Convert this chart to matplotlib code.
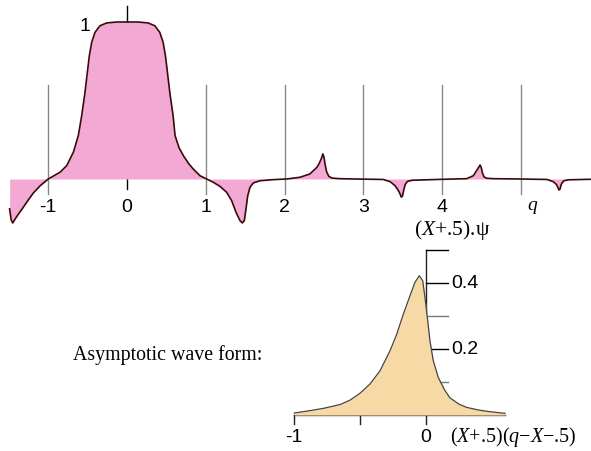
import numpy as np
import matplotlib.pyplot as plt

plt.rcParams['font.family'] = ['Liberation Sans', 'DejaVu Sans']
plt.rcParams['mathtext.fontset'] = 'custom'
plt.rcParams['mathtext.rm'] = 'Liberation Serif'
plt.rcParams['mathtext.it'] = 'Liberation Serif:italic'

# top curve: (X+.5).psi
waveX = [-1.49, -1.47, -1.45, -1.42, -1.38, -1.33, -1.27, -1.19, -1.10, -1.00,
         -0.93, -0.85, -0.765, -0.681, -0.618, -0.575, -0.533, -0.503, -0.478, -0.448,
         -0.406, -0.343, -0.258, -0.131, 0.00, 0.141, 0.268, 0.353, 0.416, 0.458,
         0.488, 0.513, 0.543, 0.585, 0.61, 0.66, 0.715, 0.78, 0.84, 0.926,
         1.011, 1.095, 1.18, 1.265, 1.328, 1.383, 1.434, 1.464, 1.489, 1.51,
         1.532, 1.561, 1.603, 1.688, 1.857, 2.026, 2.195, 2.32, 2.41, 2.44,
         2.47, 2.485, 2.50, 2.515, 2.534, 2.56, 2.60, 2.70, 2.90, 3.25,
         3.34, 3.40, 3.44, 3.465, 3.48, 3.495, 3.51, 3.53, 3.56, 3.62,
         3.80, 4.00, 4.31, 4.395, 4.445, 4.47, 4.48, 4.495, 4.51, 4.53,
         4.56, 4.65, 5.00, 5.33, 5.41, 5.45, 5.47, 5.48, 5.495, 5.51,
         5.54, 5.60, 5.88]
waveY = [-0.19, -0.26, -0.28, -0.255, -0.225, -0.19, -0.146, -0.09, -0.042, 0.0,
         0.02, 0.043, 0.085, 0.17, 0.276, 0.403, 0.552, 0.68, 0.785, 0.871,
         0.934, 0.976, 0.994, 1.0, 1.0, 1.0, 0.994, 0.976, 0.934, 0.871,
         0.785, 0.68, 0.552, 0.403, 0.276, 0.20, 0.149, 0.10, 0.064, 0.021,
         0.0, -0.021, -0.047, -0.085, -0.138, -0.212, -0.265, -0.28, -0.265, -0.19,
         -0.106, -0.053, -0.025, -0.011, -0.004, 0.0, 0.011, 0.032, 0.074, 0.10,
         0.135, 0.16, 0.14, 0.09, 0.045, 0.018, 0.006, 0.002, 0.0, -0.003,
         -0.017, -0.042, -0.07, -0.095, -0.115, -0.11, -0.075, -0.035, -0.015, -0.008,
         -0.005, -0.002, 0.002, 0.021, 0.06, 0.08, 0.089, 0.075, 0.04, 0.014,
         0.005, 0.002, 0.0, -0.003, -0.017, -0.035, -0.055, -0.07, -0.065, -0.035,
         -0.012, -0.005, -0.002]
topTicks = [-1, 0, 1, 2, 3, 4, 5]
topTickLabels = ['-1', '0', '1', '2', '3', '4', '$q$']
topTickLabelX = [-1, 0, 1, 2, 3, 4, 5.15]

# bottom curve: asymptotic wave form
asymX = [-1.0, -0.9, -0.78, -0.65, -0.577, -0.501, -0.425, -0.349, -0.273, -0.222,
         -0.172, -0.121, -0.084, -0.051, -0.025, -0.008, 0.01, 0.03, 0.055, 0.093,
         0.144, 0.182, 0.25, 0.309, 0.40, 0.486, 0.60]
asymY = [0.006, 0.012, 0.02, 0.032, 0.045, 0.066, 0.094, 0.134, 0.195, 0.245,
         0.306, 0.362, 0.402, 0.422, 0.407, 0.357, 0.296, 0.225, 0.165, 0.114,
         0.074, 0.052, 0.033, 0.023, 0.015, 0.01, 0.005]
asymXTicks = [-1, -0.5, 0]
asymXTickLabels = ['-1', '', '0']
asymYTicks = [0.1, 0.2, 0.3, 0.4, 0.5]
asymYTickLabels = ['', '0.2', '', '0.4', '']

fig = plt.figure(figsize=(5.91, 4.52), dpi=100)

# ---- top panel ----
ax1 = fig.add_axes([0, 1 - 240 / 452, 1, 240 / 452])
ax1.set_xlim(-127 / 78.8, (591 - 127) / 78.8)
ax1.set_ylim(-60 / 157, 180 / 157)
ax1.axis('off')

for t in topTicks:
    if t == 0:
        ax1.plot([t, t], [-0.064, 1.10], color='black', lw=1.0, zorder=1)
    else:
        ax1.plot([t, t], [-0.096, 0.599], color='#888888', lw=1.0, zorder=1)

ax1.fill_between(waveX, waveY, 0, color='#F2AAD5', lw=0, zorder=2)
ax1.plot(waveX, waveY, color='#3B0A0A', lw=1.2, zorder=3,
         solid_joinstyle='round')

for t, lab in zip(topTickLabelX, topTickLabels):
    ax1.text(t, -0.172, lab, ha='center', va='center', fontsize=14)
ax1.text(-0.533, 0.975, '1', ha='center', va='center', fontsize=14)
ax1.text(4.124, -0.318, r'($X$+.5).ψ', ha='center', va='center',
         fontsize=15.5, family='Liberation Serif')

# ---- bottom panel ----
ax2 = fig.add_axes([0, 0, 1, 212 / 452])
ax2.set_xlim(-426 / 131.7, (591 - 426) / 131.7)
ax2.set_ylim(-36 / 330, 176 / 330)
ax2.axis('off')

ax2.plot([0, 0], [0, 0.5], color='#222222', lw=1.0, zorder=1)
for t, lab in zip(asymYTicks, asymYTickLabels):
    col = 'black' if lab != '' or t == 0.5 else '#777777'
    ax2.plot([0, 0.165], [t, t], color=col, lw=1.0, zorder=1)
    if lab:
        ax2.text(0.19, t, lab, ha='left', va='center', fontsize=14)

ax2.plot([-1, 0.6], [0, 0], color='#444444', lw=1.0, zorder=1)
for t, lab in zip(asymXTicks, asymXTickLabels):
    ax2.plot([t, t], [0, -0.027], color='#222222', lw=1.0, zorder=1)
    if lab:
        ax2.text(t, -0.064, lab, ha='center', va='center', fontsize=14)

ax2.fill_between(asymX, asymY, 0, color='#F6D9A4', lw=0, zorder=2)
ax2.plot(asymX, asymY, color='#444444', lw=0.9, zorder=3,
         solid_joinstyle='round')

ax2.text(0.182, -0.064, r'($X$+.5)($q$−$X$−.5)', ha='left', va='center',
         fontsize=14.5, family='Liberation Serif')
ax2.text(-2.68, 0.185, 'Asymptotic wave form:', ha='left', va='center',
         fontsize=14.3, family='Liberation Serif')

fig.savefig('out.png', dpi=100)
